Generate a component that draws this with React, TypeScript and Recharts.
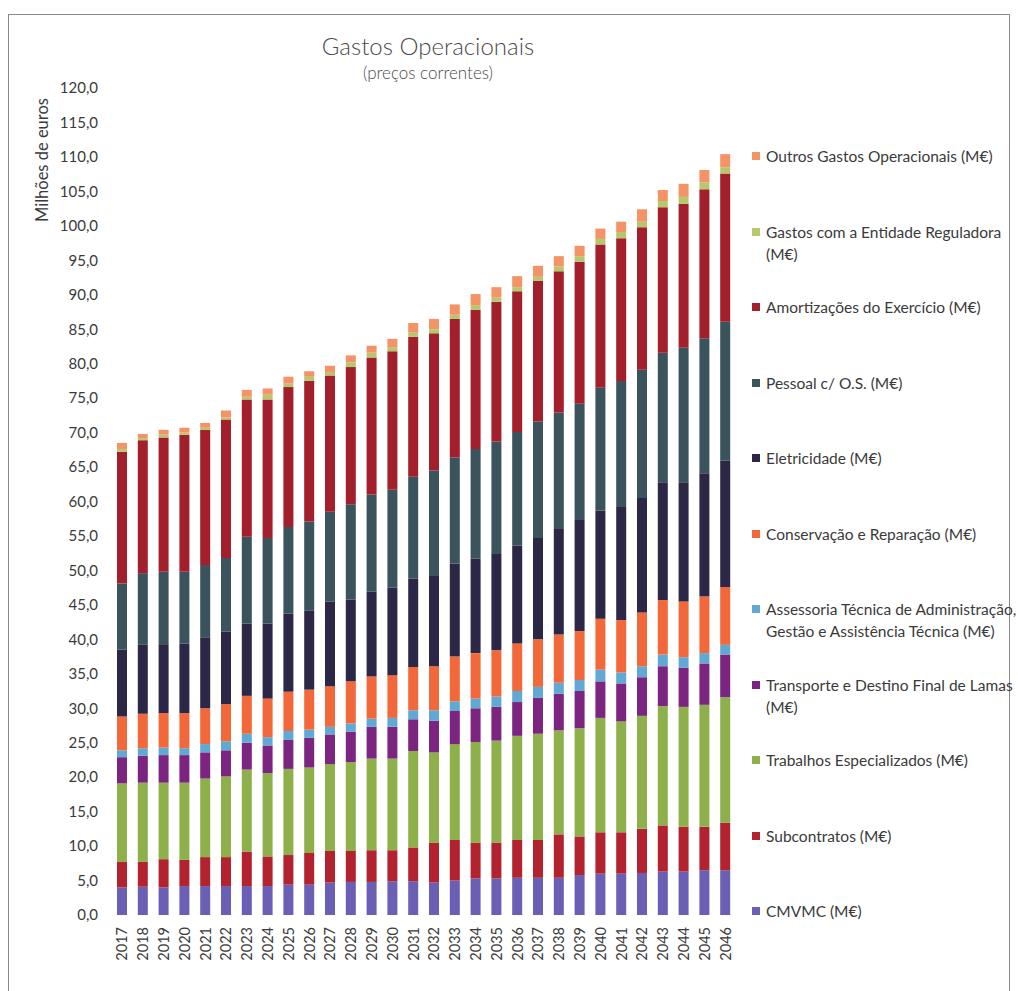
import React from 'react';
import { BarChart, Bar, XAxis, YAxis } from 'recharts';

const years = [
  '2017', '2018', '2019', '2020', '2021', '2022', '2023', '2024', '2025', '2026',
  '2027', '2028', '2029', '2030', '2031', '2032', '2033', '2034', '2035', '2036',
  '2037', '2038', '2039', '2040', '2041', '2042', '2043', '2044', '2045', '2046',
];

const cmvmc = [4.0, 4.1, 4.0, 4.2, 4.2, 4.2, 4.2, 4.2, 4.4, 4.4, 4.7, 4.8, 4.8, 4.9, 4.9, 4.7, 5.0, 5.3, 5.3, 5.4, 5.4, 5.4, 5.8, 6.0, 6.0, 6.1, 6.3, 6.3, 6.5, 6.5];
const subcontratos = [3.7, 3.6, 4.1, 3.8, 4.2, 4.2, 5.0, 4.3, 4.3, 4.6, 4.6, 4.5, 4.6, 4.5, 4.9, 5.8, 5.9, 5.2, 5.2, 5.5, 5.5, 6.3, 5.6, 6.0, 6.0, 6.4, 6.7, 6.5, 6.3, 6.9];
const trabalhos = [11.4, 11.5, 11.1, 11.2, 11.4, 11.7, 11.9, 12.1, 12.5, 12.4, 12.6, 12.9, 13.3, 13.3, 14.0, 13.1, 13.9, 14.6, 14.8, 15.1, 15.4, 15.1, 15.7, 16.6, 16.1, 16.4, 17.3, 17.4, 17.7, 18.2];
const transporte = [3.8, 3.9, 4.0, 4.0, 3.8, 3.8, 3.9, 4.0, 4.2, 4.3, 4.3, 4.4, 4.6, 4.6, 4.6, 4.6, 4.8, 4.9, 4.9, 4.9, 5.2, 5.3, 5.4, 5.3, 5.5, 5.6, 5.8, 5.7, 6.0, 6.2];
const assessoria = [1.0, 1.1, 1.1, 1.0, 1.2, 1.3, 1.3, 1.2, 1.3, 1.2, 1.1, 1.2, 1.2, 1.3, 1.3, 1.5, 1.4, 1.4, 1.5, 1.6, 1.6, 1.6, 1.6, 1.7, 1.6, 1.6, 1.7, 1.5, 1.5, 1.4];
const conservacao = [4.9, 5.0, 5.0, 5.1, 5.2, 5.4, 5.5, 5.6, 5.7, 5.8, 5.9, 6.1, 6.1, 6.2, 6.3, 6.4, 6.5, 6.6, 6.7, 6.9, 6.9, 7.0, 7.1, 7.4, 7.6, 7.8, 7.9, 8.1, 8.2, 8.4];
const eletricidade = [9.7, 10.0, 10.0, 10.1, 10.3, 10.5, 10.5, 10.9, 11.3, 11.5, 12.3, 11.9, 12.3, 12.7, 12.8, 13.1, 13.5, 13.7, 14.0, 14.2, 14.7, 15.3, 16.1, 15.7, 16.4, 16.6, 17.1, 17.3, 17.9, 18.3];
const pessoal = [9.6, 10.4, 10.5, 10.4, 10.5, 10.7, 12.6, 12.4, 12.6, 12.9, 13.0, 13.8, 14.1, 14.2, 14.8, 15.3, 15.4, 15.9, 16.3, 16.5, 16.9, 16.9, 16.9, 17.8, 18.3, 18.6, 18.8, 19.5, 19.6, 20.2];
const amortizacoes = [19.1, 19.3, 19.5, 19.9, 19.6, 20.1, 19.9, 20.1, 20.3, 20.4, 19.8, 19.9, 19.9, 20.1, 20.3, 19.9, 20.1, 20.2, 20.3, 20.4, 20.4, 20.5, 20.6, 20.8, 20.7, 20.7, 21.1, 20.9, 21.6, 21.5];
const entidadeReguladora = [0.4, 0.3, 0.4, 0.3, 0.3, 0.3, 0.4, 0.7, 0.5, 0.6, 0.5, 0.7, 0.7, 0.6, 0.6, 0.6, 0.6, 0.7, 0.6, 0.6, 0.6, 0.7, 0.8, 0.8, 0.9, 0.8, 0.9, 1.0, 1.0, 0.9];
const outros = [0.9, 0.6, 0.7, 0.7, 0.7, 1.0, 1.0, 0.9, 1.0, 0.8, 0.9, 1.0, 1.0, 1.2, 1.4, 1.5, 1.5, 1.6, 1.5, 1.6, 1.6, 1.5, 1.5, 1.5, 1.5, 1.8, 1.6, 1.9, 1.8, 1.9];

// bottom to top of the stack
const series = [
  { key: 'cmvmc', values: cmvmc, color: '#6a5fb4', label: ['CMVMC (M€)'] },
  { key: 'sub', values: subcontratos, color: '#b2222f', label: ['Subcontratos (M€)'] },
  { key: 'trab', values: trabalhos, color: '#8db04b', label: ['Trabalhos Especializados (M€)'] },
  { key: 'transp', values: transporte, color: '#7b2480', label: ['Transporte e Destino Final de Lamas', '(M€)'] },
  { key: 'assess', values: assessoria, color: '#5fa9d4', label: ['Assessoria Técnica de Administração,', 'Gestão e Assistência Técnica (M€)'] },
  { key: 'cons', values: conservacao, color: '#f2683a', label: ['Conservação e Reparação (M€)'] },
  { key: 'elet', values: eletricidade, color: '#2c2747', label: ['Eletricidade (M€)'] },
  { key: 'pess', values: pessoal, color: '#3a535c', label: ['Pessoal c/ O.S. (M€)'] },
  { key: 'amort', values: amortizacoes, color: '#a31f2b', label: ['Amortizações do Exercício (M€)'] },
  { key: 'er', values: entidadeReguladora, color: '#b5c96c', label: ['Gastos com a Entidade Reguladora', '(M€)'] },
  { key: 'outros', values: outros, color: '#f39366', label: ['Outros Gastos Operacionais (M€)'] },
];

const yTicks = [0, 5, 10, 15, 20, 25, 30, 35, 40, 45, 50, 55, 60, 65, 70, 75, 80, 85, 90, 95, 100, 105, 110, 115, 120];

const data = years.map((year, i) => {
  const row: Record<string, string | number> = { year };
  series.forEach((s) => {
    row[s.key] = s.values[i];
  });
  return row;
});

const FONT = 'Lato, "Open Sans", sans-serif';
const TEXT = '#3a3a3a';

const YearTick = (props: any) => {
  const { x, y, payload } = props;
  return (
    <text
      x={x}
      y={y}
      transform={`rotate(-90, ${x}, ${y})`}
      textAnchor="end"
      dy="0.35em"
      fill={TEXT}
      fontSize={14.5}
      fontFamily={FONT}
    >
      {payload.value}
    </text>
  );
};

const legendItems = [...series].reverse();

export default function App() {
  return (
    <div style={{ position: 'absolute', left: 0, top: 0, width: 1018, height: 991, background: '#fff', overflow: 'hidden', fontFamily: FONT }}>
      <div style={{ position: 'absolute', left: 8, top: 14, width: 1000, height: 1000, border: '1.5px solid #8a8a8a' }} />
      <div style={{ position: 'absolute', left: 228, width: 400, top: 31, textAlign: 'center', fontSize: 24, fontWeight: 300, color: '#4a4a4a' }}>
        Gastos Operacionais
      </div>
      <div style={{ position: 'absolute', left: 228, width: 400, top: 62, textAlign: 'center', fontSize: 17, fontWeight: 300, color: '#4a4a4a' }}>
        (preços correntes)
      </div>
      <div
        style={{
          position: 'absolute',
          left: 42,
          top: 160,
          transform: 'translate(-50%, -50%) rotate(-90deg)',
          whiteSpace: 'nowrap',
          fontSize: 16.5,
          color: TEXT,
        }}
      >
        Milhões de euros
      </div>
      <BarChart
        width={1018}
        height={991}
        data={data}
        margin={{ top: 88, right: 282, bottom: 0, left: 12 }}
        barCategoryGap={0}
        style={{ position: 'absolute', left: 0, top: 0 }}
      >
        <XAxis
          dataKey="year"
          interval={0}
          axisLine={false}
          tickLine={false}
          tick={<YearTick />}
          tickMargin={6}
          height={76}
        />
        <YAxis
          domain={[0, 120]}
          ticks={yTicks}
          interval={0}
          axisLine={false}
          tickLine={false}
          width={100}
          tickMargin={8}
          tickFormatter={(v: number) => v.toFixed(1).replace('.', ',')}
          tick={{ fill: TEXT, fontSize: 15, fontFamily: FONT }}
        />
        {series.map((s) => (
          <Bar key={s.key} dataKey={s.key} stackId="a" fill={s.color} barSize={10} isAnimationActive={false} />
        ))}
      </BarChart>
      {legendItems.map((s, i) => (
        <div
          key={s.key}
          style={{ position: 'absolute', left: 752, top: 145 + i * 75.5, fontSize: 15.5, lineHeight: '22px', color: TEXT }}
        >
          <span
            style={{ position: 'absolute', left: 0, top: 7, width: 8, height: 8, background: s.color }}
          />
          <div style={{ marginLeft: 14, whiteSpace: 'nowrap' }}>
            {s.label.map((l) => (
              <div key={l}>{l}</div>
            ))}
          </div>
        </div>
      ))}
    </div>
  );
}
